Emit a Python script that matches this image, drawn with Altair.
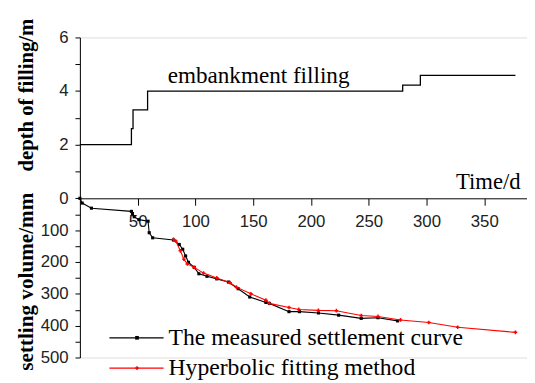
import altair as alt
import pandas as pd

# ---------------- data ----------------
depth_days = [0, 44.6, 46, 58.6, 279.4, 294.7, 377]
depth_m = [2.0, 2.6, 3.3, 4.0, 4.22, 4.59, 4.59]

measured_days = [0, 2, 10, 44.6, 45.5, 47, 51, 59, 60, 63, 81, 86, 89, 91.5, 94, 99,
                 103, 110, 118.5, 128.5, 137, 147, 161, 164, 181, 190, 206.5, 224,
                 243.5, 258, 275]
measured_mm = [0, 15, 31, 41, 48, 58, 67, 72, 108, 124, 131, 145, 160, 181, 201, 217,
               237, 245, 253, 263, 284, 310, 327, 330, 356, 356, 360, 367,
               377, 375, 385]

fitted_days = [81, 83, 87, 90, 93, 99, 107, 118.5, 130, 135.5, 148, 161, 164, 181,
               189.5, 206.5, 222, 243.5, 258, 277.5, 302, 327, 377]
fitted_mm = [129, 134, 165, 191, 206, 217, 235, 250, 265, 279, 300, 320, 330, 343,
             349, 352, 353, 368, 371, 382, 390, 405, 421]

x_ticks = [50, 100, 150, 200, 250, 300, 350]
depth_ticks = [0, 1, 2, 3, 4, 5, 6]
settle_ticks = [50, 100, 150, 200, 250, 300, 350, 400, 450, 500]

series_names = ["The measured settlement curve", "Hyperbolic fitting method"]
series_colors = ["black", "red"]

# ---------------- layout ----------------
W, H = 454, 325
K = 84.2            # units of shared y scale per metre of filling depth
YMAX = 6 * K + 0.1
SERIF = "Liberation Serif"
SANS = "Liberation Sans"

depth_df = pd.DataFrame({"day": depth_days, "v": [d * K for d in depth_m]})
meas_df = pd.DataFrame({"day": measured_days, "v": [-m for m in measured_mm]})
fit_df = pd.DataFrame({"day": fitted_days, "v": [-m for m in fitted_mm]})
one = pd.DataFrame({"a": [0]})

x_scale = alt.Scale(domain=[0, 387], nice=False, zero=False)
y_scale = alt.Scale(domain=[-500, YMAX], nice=False, zero=False)

zero_px = H * YMAX / (YMAX + 500)

x_axis = alt.Axis(
    values=x_ticks, orient="bottom", offset=-(H - zero_px), grid=False,
    tickSize=7, tickColor="black", domainColor="black", labelPadding=9,
    labelFont=SANS, labelFontSize=17, labelColor="#222",
    title="Time/d", titleFont=SERIF, titleFontSize=23, titleFontWeight="normal",
    titleColor="black", titleX=447, titleY=-16.5, titleAlign="right",
    titleBaseline="middle", titleAnchor="end",
)
y_values = [t * K for t in depth_ticks] + [-t for t in settle_ticks]
label_expr = (
    "datum.value > 1 ? (round(datum.value / %s) %% 2 == 0 ? format(round(datum.value / %s), 'd') : '') : "
    "(datum.value > -1 ? '0' : (round(datum.value) %% 100 == 0 ? format(-round(datum.value), 'd') : ''))"
) % (K, K)
y_axis = alt.Axis(
    values=y_values, labelExpr=label_expr, orient="left", grid=False,
    tickSize=5, tickColor="black", domainColor="black", labelPadding=7,
    labelFont=SANS, labelFontSize=17, labelColor="#222", title=None,
)

X = alt.X("day:Q", scale=x_scale, axis=x_axis)
Y = alt.Y("v:Q", scale=y_scale, axis=y_axis)

depth_line = alt.Chart(depth_df).mark_line(
    interpolate="step-after", color="black", strokeWidth=1.3
).encode(x=X, y=Y)

meas_line = alt.Chart(meas_df).mark_line(
    color="black", strokeWidth=1.1,
    point=alt.OverlayMarkDef(shape="square", size=10, filled=True, color="black"),
).encode(x=X, y=Y)

fit_line = alt.Chart(fit_df).mark_line(
    color="red", strokeWidth=1.1,
    point=alt.OverlayMarkDef(shape="cross", size=14, filled=True, color="red"),
).encode(x=X, y=Y)

emb_text = alt.Chart(one).mark_text(
    text="embankment filling", align="left", baseline="alphabetic",
    font=SERIF, fontSize=23.5, color="black",
).encode(
    x=alt.X(datum=76, type="quantitative", scale=x_scale, axis=x_axis),
    y=alt.Y(datum=4.29 * K, type="quantitative", scale=y_scale, axis=y_axis),
)

title_top = alt.Chart(one).mark_text(
    text="depth of filling/m", angle=270, align="center", baseline="middle",
    font=SERIF, fontSize=21, fontWeight="bold", color="black",
).encode(
    x=alt.value(-54),
    y=alt.Y(datum=3.85 * K, type="quantitative", scale=y_scale, axis=y_axis),
)
title_bottom = alt.Chart(one).mark_text(
    text="settling volume/mm", angle=270, align="center", baseline="middle",
    font=SERIF, fontSize=21.5, fontWeight="bold", color="black",
).encode(
    x=alt.value(-54),
    y=alt.Y(datum=-262, type="quantitative", scale=y_scale, axis=y_axis),
)

# ---------------- manual legend ----------------
legend_layers = []
legend_rows = [305, 335.7]
legend_shapes = ["square", "cross"]
for name, col, row, shp in zip(series_names, series_colors, legend_rows, legend_shapes):
    legend_layers.append(
        alt.Chart(one).mark_rule(color=col, strokeWidth=1.3).encode(
            x=alt.value(30), x2=alt.value(85), y=alt.value(row)
        )
    )
    legend_layers.append(
        alt.Chart(one).mark_point(shape=shp, size=14, filled=True, color=col, opacity=1).encode(
            x=alt.value(58), y=alt.value(row)
        )
    )
    legend_layers.append(
        alt.Chart(one).mark_text(
            text=name, align="left", baseline="middle", font=SERIF, fontSize=24, color="black"
        ).encode(x=alt.value(90), y=alt.value(row))
    )

chart = alt.layer(
    depth_line, meas_line, fit_line, emb_text, title_top, title_bottom, *legend_layers
).properties(
    width=W, height=H,
    autosize=alt.AutoSizeParams(type="none"),
    padding={"left": 73, "top": 27, "right": 0, "bottom": 23},
).configure_view(stroke=None).configure(background="white")

chart.save("out.html", embed_options={"renderer": "svg", "actions": False})
